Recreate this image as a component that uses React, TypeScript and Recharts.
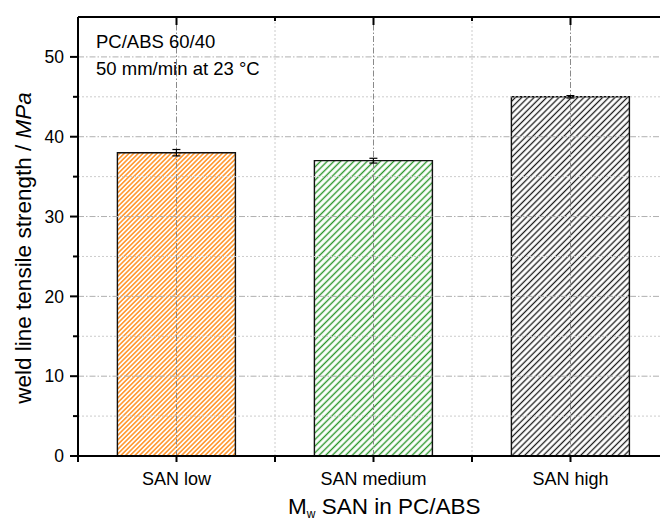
import React from 'react';
import {
  BarChart,
  Bar,
  XAxis,
  YAxis,
  ErrorBar,
  Cell,
  ReferenceLine,
} from 'recharts';

const categories = ['SAN low', 'SAN medium', 'SAN high'];
const strengths = [38.0, 37.0, 45.0];
const errors = [0.4, 0.3, 0.15];
const yTicks = [0, 5, 10, 15, 20, 25, 30, 35, 40, 45, 50];
const yMajorGrid = [10, 20, 30, 40, 50];
const yMinorGrid = [5, 15, 25, 35, 45];
const yMax = 55;
const patternIds = ['hatchOrange', 'hatchGreen', 'hatchBlack'];

const data = categories.map((name, i) => ({
  name,
  x: i + 0.5,
  value: strengths[i],
  err: errors[i],
}));

const centerTicks = categories.map((_, i) => i + 0.5);
const boundaryLines = [1, 2];
const bottomTicks = [0, 0.5, 1, 1.5, 2, 2.5, 3];

const FONT = '"Liberation Sans", Arial, sans-serif';
const Y_TICK = 8;
const Y_MARGIN = 6;
const X_TICK = 6;
const X_MARGIN = 10;

const Hatch = ({ id, color, gap, w }: { id: string; color: string; gap: number; w: number }) => (
  <pattern
    id={id}
    patternUnits="userSpaceOnUse"
    width={gap}
    height={gap}
    patternTransform="rotate(45)"
  >
    <line x1={gap / 2} y1={0} x2={gap / 2} y2={gap} stroke={color} strokeWidth={w} />
  </pattern>
);

const YTick = (props: any) => {
  const { x, y, payload } = props;
  const v = payload.value as number;
  const major = v % 10 === 0;
  const axisX = x + Y_TICK + Y_MARGIN;
  const len = major ? Y_TICK : 5;
  return (
    <g>
      <line x1={axisX - len} y1={y} x2={axisX} y2={y} stroke="#000" strokeWidth={2} />
      {major && (
        <text x={x} y={y} dy="0.36em" textAnchor="end" fontSize={17.5} fill="#000" fontFamily={FONT}>
          {v}
        </text>
      )}
    </g>
  );
};

const XTick = (props: any) => {
  const { x, y, payload } = props;
  const v = payload.value as number;
  const center = v % 1 === 0.5;
  const axisY = y - X_TICK - X_MARGIN;
  return (
    <g>
      <line x1={x} y1={axisY} x2={x} y2={axisY + X_TICK} stroke="#000" strokeWidth={2} />
      {center && (
        <text x={x} y={y} dy="0.71em" textAnchor="middle" fontSize={18} fill="#000" fontFamily={FONT}>
          {categories[Math.floor(v)]}
        </text>
      )}
    </g>
  );
};

const vLine = (color: string, dash: string, topTick: number) => (p: any) => (
  <g>
    <line x1={p.x1} y1={p.y1} x2={p.x2} y2={p.y2} stroke={color} strokeWidth={1} strokeDasharray={dash} />
    <line
      x1={p.x1}
      y1={Math.min(p.y1, p.y2)}
      x2={p.x1}
      y2={Math.min(p.y1, p.y2) + topTick}
      stroke="#000"
      strokeWidth={2}
    />
  </g>
);

export default function App() {
  return (
    <div
      style={{
        position: 'absolute',
        left: 0,
        top: 0,
        width: 660,
        height: 522,
        overflow: 'hidden',
        background: '#fff',
        fontFamily: FONT,
      }}
    >
      <svg width={0} height={0} style={{ position: 'absolute' }}>
        <defs>
          <Hatch id="hatchOrange" color="#FF8A14" gap={3.3} w={1.4} />
          <Hatch id="hatchGreen" color="#2A962A" gap={4.7} w={1.4} />
          <Hatch id="hatchBlack" color="#1a1a1a" gap={4.4} w={1.3} />
        </defs>
      </svg>
      <BarChart
        width={680}
        height={522}
        data={data}
        margin={{ top: 17, right: 11, left: 0, bottom: 0 }}
        barCategoryGap="20%"
        style={{ fontFamily: FONT }}
      >
        <XAxis
          xAxisId="axisNum"
          orientation="bottom"
          type="number"
          dataKey="x"
          domain={[0, 3]}
          ticks={bottomTicks}
          interval={0}
          height={66}
          tickSize={X_TICK}
          tickMargin={X_MARGIN}
          tick={<XTick />}
          tickLine={false}
          axisLine={{ stroke: '#000', strokeWidth: 2 }}
        />
        <XAxis xAxisId="zcat" dataKey="name" hide height={0} />
        <YAxis
          yAxisId="main"
          domain={[0, yMax]}
          ticks={yTicks}
          width={78}
          tickSize={Y_TICK}
          tickMargin={Y_MARGIN}
          interval={0}
          tick={<YTick />}
          tickLine={false}
          axisLine={{ stroke: '#000', strokeWidth: 2 }}
        />
        {yMinorGrid.map((v) => (
          <ReferenceLine
            key={`ymin${v}`}
            xAxisId="axisNum"
            yAxisId="main"
            y={v}
            stroke="#cccccc"
            strokeDasharray="2 2"
          />
        ))}
        {yMajorGrid.map((v) => (
          <ReferenceLine
            key={`ymaj${v}`}
            xAxisId="axisNum"
            yAxisId="main"
            y={v}
            stroke="#b0b0b0"
            strokeDasharray="6 2 1.5 2"
          />
        ))}
        {boundaryLines.map((v) => (
          <ReferenceLine
            key={`xb${v}`}
            xAxisId="axisNum"
            yAxisId="main"
            x={v}
            shape={vLine('#cccccc', '2 2', 4)}
          />
        ))}
        {centerTicks.map((v) => (
          <ReferenceLine
            key={`xc${v}`}
            xAxisId="axisNum"
            yAxisId="main"
            x={v}
            shape={vLine('#8a8a8a', '6 2 1.5 2', 8)}
          />
        ))}
        <ReferenceLine xAxisId="axisNum" yAxisId="main" y={yMax} stroke="#000" strokeWidth={2} />
        <Bar
          xAxisId="zcat"
          yAxisId="main"
          dataKey="value"
          stroke="#111"
          strokeWidth={1.4}
          isAnimationActive={false}
        >
          {data.map((d, i) => (
            <Cell key={d.name} fill={`url(#${patternIds[i]})`} />
          ))}
          <ErrorBar dataKey="err" width={4} stroke="#000" strokeWidth={1.2} isAnimationActive={false} />
        </Bar>
      </BarChart>
      <svg
        width={660}
        height={522}
        style={{ position: 'absolute', left: 0, top: 0, pointerEvents: 'none' }}
        fontFamily={FONT}
      >
        <text x={96} y={48} fontSize={18.5} fill="#000">PC/ABS 60/40</text>
        <text x={96} y={75} fontSize={18.5} fill="#000">50 mm/min at 23 °C</text>
        <text
          transform="translate(31,248) rotate(-90)"
          textAnchor="middle"
          fontSize={22.5}
          fill="#000"
        >
          weld line tensile strength / <tspan fontStyle="italic">MPa</tspan>
        </text>
        <text x={288} y={514} fontSize={22.5} fill="#000">
          M<tspan fontSize={12} dy={4}>w</tspan>
          <tspan dy={-4}> SAN in PC/ABS</tspan>
        </text>
      </svg>
    </div>
  );
}
